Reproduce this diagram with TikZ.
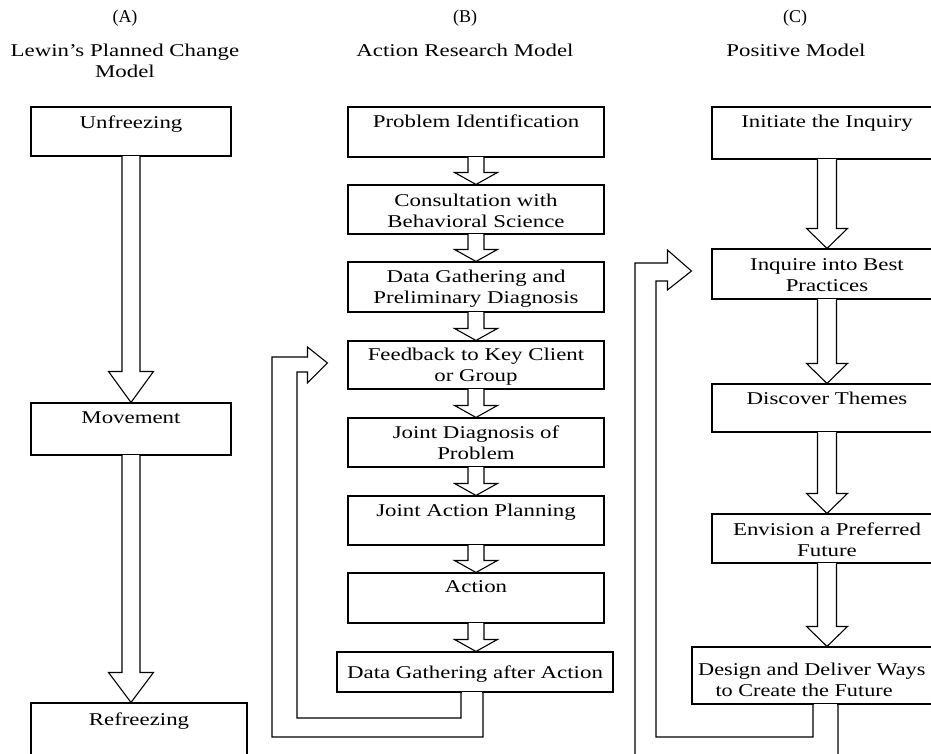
\documentclass[tikz,border=0pt]{standalone}
\usepackage{fontspec}
\setmainfont{Liberation Serif}
\usepackage{graphicx}
\usetikzlibrary{calc}
\newcommand\sx[1]{\scalebox{1.27}[1]{\begin{tabular}[t]{@{}c@{}}#1\end{tabular}}}
\tikzset{
  box/.style={draw, line width=1.1pt, inner sep=0pt, fill=white},
  txt/.style={inner sep=0pt, anchor=base, font=\fontsize{18}{21}\selectfont},
  ln/.style={line width=1.1pt, line join=miter},
}
\newcommand\barrow[5]{%
  \fill[white] ($(#1.south)+(-#3+0.7,-1)$) rectangle ($(#1.south)+(#3-0.7,1)$);
  \draw[ln, fill=white] ($(#1.south)+(-#3,0)$) -- ($(#1.south |- #2.north)+(-#3,-#5)$) -- ($(#1.south |- #2.north)+(-#4,-#5)$) -- (#1.south |- #2.north) -- ($(#1.south |- #2.north)+(#4,-#5)$) -- ($(#1.south |- #2.north)+(#3,-#5)$) -- ($(#1.south)+(#3,0)$);
}
\begin{document}
\begin{tikzpicture}[x=1pt,y=-1pt]
\useasboundingbox (0,0) rectangle (931,753);
\clip (0,0) rectangle (931,753);
\fill[white] (0,0) rectangle (931,753);
% titles
\node[txt] (la) at (125,22) {(A)};
\node[txt] (lb) at (465,22) {(B)};
\node[txt] (lc) at (795,22) {(C)};
\node[txt] (ta) at (125,56) {\sx{Lewin's Planned Change\\Model}};
\node[txt] (tb) at (465,56) {\sx{Action Research Model}};
\node[txt] (tc) at (796,56) {\sx{Positive Model}};
% column A
\node[box, minimum width=200pt, minimum height=49pt] (unf) at (131,131.5) {};
\node[box, minimum width=200pt, minimum height=52pt] (mov) at (131,429) {};
\node[box, minimum width=216pt, minimum height=76pt] (ref) at (139,741) {};
\node[txt] (unf-t) at ($(unf.north)+(0,22)$) {\sx{Unfreezing}};
\node[txt] (mov-t) at ($(mov.north)+(0,21)$) {\sx{Movement}};
\node[txt] (ref-t) at ($(ref.north)+(0,23)$) {\sx{Refreezing}};
\barrow{unf}{mov}{9}{22.5}{31}
\barrow{mov}{ref}{9}{22.5}{30}
% column B
\node[box, minimum width=256pt, minimum height=50pt] (b1) at (476,132) {};
\node[box, minimum width=256pt, minimum height=49pt] (b2) at (476,209.5) {};
\node[box, minimum width=256pt, minimum height=50pt] (b3) at (476,287) {};
\node[box, minimum width=256pt, minimum height=48pt] (b4) at (476,365) {};
\node[box, minimum width=256pt, minimum height=49pt] (b5) at (476,442.5) {};
\node[box, minimum width=256pt, minimum height=49pt] (b6) at (476,520.5) {};
\node[box, minimum width=256pt, minimum height=50pt] (b7) at (476,598) {};
\node[box, minimum width=276pt, minimum height=40pt] (b8) at (475,672) {};
\node[txt] (b1-t) at ($(b1.north)+(0,21)$) {\sx{Problem Identification}};
\node[txt] (b2-t) at ($(b2.north)+(0,22)$) {\sx{Consultation with\\Behavioral Science}};
\node[txt] (b3-t) at ($(b3.north)+(0,21)$) {\sx{Data Gathering and\\Preliminary Diagnosis}};
\node[txt] (b4-t) at ($(b4.north)+(0,20)$) {\sx{Feedback to Key Client\\or Group}};
\node[txt] (b5-t) at ($(b5.north)+(0,21)$) {\sx{Joint Diagnosis of\\Problem}};
\node[txt] (b6-t) at ($(b6.north)+(0,21)$) {\sx{Joint Action Planning}};
\node[txt] (b7-t) at ($(b7.north)+(0,20)$) {\sx{Action}};
\node[txt] (b8-t) at ($(b8.north)+(0,27)$) {\sx{Data Gathering after Action}};
\barrow{b1}{b2}{8}{21.5}{12}
\barrow{b2}{b3}{8}{21.5}{12}
\barrow{b3}{b4}{8}{21.5}{12}
\barrow{b4}{b5}{8}{21.5}{12}
\barrow{b5}{b6}{8}{21.5}{12}
\barrow{b6}{b7}{8}{21.5}{12}
\barrow{b7}{b8}{8}{21.5}{12}
% loop B
\coordinate (tipB) at ($(b4.west)+(-20,-2)$);
\fill[white] ($(b8.south)+(-13.3,-1)$) rectangle ($(b8.south)+(7.3,1)$);
\draw[ln] ($(b8.south)+(-14,0)$) |- (297,718) |- ($(tipB)+(-20,9)$) -- ($(tipB)+(-20,20)$) -- (tipB) -- ($(tipB)+(-20,-16)$) -- ($(tipB)+(-20,-6)$) -| (272,737) -| ($(b8.south)+(8,0)$);
% column C
\node[box, minimum width=230pt, minimum height=52pt] (c1) at (827,133) {};
\node[box, minimum width=230pt, minimum height=50pt] (c2) at (827,274) {};
\node[box, minimum width=230pt, minimum height=48pt] (c3) at (827,408) {};
\node[box, minimum width=230pt, minimum height=49pt] (c4) at (827,538.5) {};
\node[box, minimum width=270pt, minimum height=57pt] (c5) at (827,675.5) {};
\node[txt] (c1-t) at ($(c1.north)+(0,21)$) {\sx{Initiate the Inquiry}};
\node[txt] (c2-t) at ($(c2.north)+(0,22)$) {\sx{Inquire into Best\\Practices}};
\node[txt] (c3-t) at ($(c3.north)+(0,21)$) {\sx{Discover Themes}};
\node[txt] (c4-t) at ($(c4.north)+(0,22)$) {\sx{Envision a Preferred\\Future}};
\node[txt, anchor=base west] (c5-t) at (698,675) {\scalebox{1.235}[1]{\begin{tabular}[t]{@{}l@{}}Design and Deliver Ways\\\hspace*{14pt}to Create the Future\end{tabular}}};
\barrow{c1}{c2}{9.5}{20.5}{20}
\barrow{c2}{c3}{9.5}{20.5}{20}
\barrow{c3}{c4}{9.5}{20.5}{20}
\barrow{c4}{c5}{9.5}{20.5}{20}
% loop C
\coordinate (tipC) at ($(c2.west)+(-20,-3)$);
\fill[white] ($(c5.south)+(-13.3,-1)$) rectangle ($(c5.south)+(10.3,1)$);
\draw[ln] ($(c5.south)+(-14,0)$) |- (656,737) |- ($(tipC)+(-24,10)$) -- ($(tipC)+(-24,19)$) -- (tipC) -- ($(tipC)+(-24,-21)$) -- ($(tipC)+(-24,-8)$) -| (635,790) -| ($(c5.south)+(11,0)$);
\end{tikzpicture}
\end{document}
